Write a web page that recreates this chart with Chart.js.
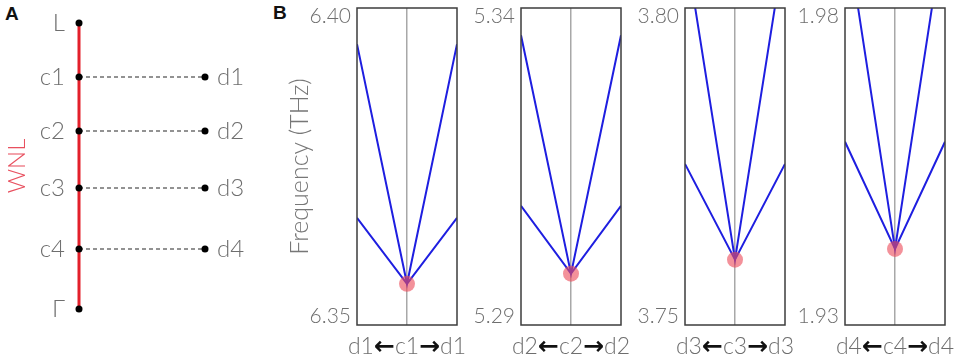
<!DOCTYPE html>
<html><head><meta charset="utf-8">
<script src="https://cdn.jsdelivr.net/npm/chart.js@4.4.1/dist/chart.umd.min.js"></script>
<style>
html,body{margin:0;padding:0;background:#fff;}
#wrap{position:relative;width:962px;height:358px;overflow:hidden;background:#fff;}
canvas{position:absolute;top:0;}
.tag{position:absolute;font:bold 19px "Liberation Sans",Arial,sans-serif;color:#111;line-height:19px;}
</style></head><body>
<div id="wrap">
<div class="tag" style="left:5px;top:4px">A</div>
<div class="tag" style="left:273px;top:3px">B</div>
<canvas id="cA" width="260" height="358" style="left:0px"></canvas>
<canvas id="c0" width="190" height="358" style="left:277px"></canvas>
<canvas id="c1" width="190" height="358" style="left:441px"></canvas>
<canvas id="c2" width="190" height="358" style="left:605px"></canvas>
<canvas id="c3" width="190" height="358" style="left:765px"></canvas>
</div>
<script>
// ---------- DATA ----------
// Panel A: path L -> Gamma with branch points c1..c4 (relative position along path)
const nodeLabels = ['L', 'c1', 'c2', 'c3', 'c4', 'Γ'];
const nodePos    = [0, 0.189, 0.378, 0.577, 0.790, 1];
const branchLabels = ['d1', 'd2', 'd3', 'd4'];
const branchPos    = [0.189, 0.378, 0.577, 0.790];

// Panel B: dispersion around each c point (x: d <- c -> d)
const pointNames  = ['c1', 'c2', 'c3', 'c4'];
const sideNames   = ['d1', 'd2', 'd3', 'd4'];
const xPos        = [-1, 0, 1];
const yMin        = [6.35, 5.29, 3.75, 1.93];
const yMax        = [6.40, 5.34, 3.80, 1.98];
const centerFreq  = [6.3565, 5.2981, 3.7603, 1.9420];   // degenerate point (dot)
const lowerBranch = [6.3669, 5.3088, 3.7754, 1.9589];   // value at d (both sides)
const upperBranch = [6.3943, 5.3357, 3.8102, 1.9935];   // value at d (both sides)

// ---------- STYLE ----------
Chart.defaults.font.family = 'Lato';
Chart.defaults.font.weight = 300;
const GRAY = '#6e6e6e';
const LIGHT = {family: 'Lato', weight: 300};

// ---------- Panel A ----------
new Chart(document.getElementById('cA'), {
  type: 'scatter',
  data: {
    datasets: [
      { // node dots
        data: nodePos.map(p => ({x: 0, y: p})),
        showLine: false, pointRadius: 3.5, pointHoverRadius: 3.5,
        pointBackgroundColor: '#000', pointBorderWidth: 0, clip: false, order: 0
      },
      { // WNL red path
        data: [{x: 0, y: nodePos[0]}, {x: 0, y: nodePos[nodePos.length - 1]}],
        showLine: true, borderColor: '#e3202b', borderWidth: 3, pointRadius: 0, clip: false, order: 2
      },
      ...branchPos.map(p => ({
        data: [{x: 0, y: p}, {x: 1, y: p}],
        showLine: true, borderColor: '#6f6f6f', borderWidth: 1.5, borderDash: [4, 3],
        pointRadius: [0, 3.5], pointBackgroundColor: '#000', pointBorderWidth: 0, clip: false, order: 1
      }))
    ]
  },
  options: {
    responsive: false, animation: false, events: [],
    layout: {padding: {top: 23, bottom: 49, left: 0, right: 0}},
    plugins: {legend: {display: false}, tooltip: {enabled: false}},
    scales: {
      x: {type: 'linear', min: 0, max: 1, display: false},
      y: {
        type: 'linear', position: 'left', reverse: true, min: 0, max: 1,
        afterBuildTicks: s => { s.ticks = nodePos.map(v => ({value: v})); },
        afterFit: s => { s.width = 79; s.paddingTop = 0; s.paddingBottom = 0; },
        ticks: {callback: v => nodeLabels[nodePos.indexOf(v)], color: GRAY,
                font: {...LIGHT, size: 24}, padding: 14, autoSkip: false},
        grid: {display: false, drawTicks: false}, border: {display: false},
        title: {display: true, text: 'WNL', color: '#e8505f', font: {...LIGHT, size: 24},
                padding: {top: 3, bottom: 0}}
      },
      y2: {
        type: 'linear', position: 'right', reverse: true, min: 0, max: 1,
        afterBuildTicks: s => { s.ticks = branchPos.map(v => ({value: v})); },
        afterFit: s => { s.width = 55; s.paddingTop = 0; s.paddingBottom = 0; },
        ticks: {callback: v => branchLabels[branchPos.indexOf(v)], color: GRAY,
                font: {...LIGHT, size: 24}, padding: 12, autoSkip: false},
        grid: {display: false, drawTicks: false}, border: {display: false}
      }
    }
  }
});

// ---------- Panel B ----------
const framePlugin = {
  id: 'frame',
  afterDatasetsDraw(chart) {
    const {ctx, chartArea: a} = chart;
    ctx.save();
    ctx.strokeStyle = '#3c3c3c';
    ctx.lineWidth = 1.5;
    ctx.strokeRect(a.left, a.top, a.right - a.left, a.bottom - a.top);
    ctx.restore();
  }
};
const xLabelPlugin = {
  id: 'xlabel',
  afterDraw(chart, args, opts) {
    const {ctx, chartArea: a} = chart;
    const segs = [
      [opts.side, '300 23px Lato', GRAY],
      ['←', 'bold 25px "DejaVu Sans"', '#111'],
      [opts.mid, '300 23px Lato', GRAY],
      ['→', 'bold 25px "DejaVu Sans"', '#111'],
      [opts.side, '300 23px Lato', GRAY]
    ];
    ctx.save();
    ctx.textBaseline = 'middle';
    ctx.textAlign = 'left';
    let total = 0;
    const widths = segs.map(s => { ctx.font = s[1]; const w = ctx.measureText(s[0]).width; total += w; return w; });
    let x = (a.left + a.right) / 2 - total / 2;
    segs.forEach((s, i) => {
      ctx.font = s[1]; ctx.fillStyle = s[2];
      ctx.fillText(s[0], x, 347);
      x += widths[i];
    });
    ctx.restore();
  }
};

for (let i = 0; i < 4; i++) {
  const lo = yMin[i], hi = yMax[i];
  new Chart(document.getElementById('c' + i), {
    type: 'scatter',
    data: {
      datasets: [
        { // degenerate point
          data: [{x: xPos[1], y: centerFreq[i]}],
          showLine: false, pointRadius: 8, pointHoverRadius: 8,
          pointBackgroundColor: 'rgba(236,78,92,0.62)', pointBorderWidth: 0, clip: false, order: 0
        },
        { // upper branch
          data: [{x: xPos[0], y: upperBranch[i]}, {x: xPos[1], y: centerFreq[i]}, {x: xPos[2], y: upperBranch[i]}],
          showLine: true, borderColor: '#1e1ee0', borderWidth: 2, pointRadius: 0, clip: 0, order: 1
        },
        { // lower branch
          data: [{x: xPos[0], y: lowerBranch[i]}, {x: xPos[1], y: centerFreq[i]}, {x: xPos[2], y: lowerBranch[i]}],
          showLine: true, borderColor: '#1e1ee0', borderWidth: 2, pointRadius: 0, clip: 0, order: 1
        }
      ]
    },
    options: {
      responsive: false, animation: false, events: [],
      layout: {padding: {top: 5, bottom: 33, left: 0, right: 10}},
      plugins: {legend: {display: false}, tooltip: {enabled: false},
                xlabel: {side: sideNames[i], mid: pointNames[i]}},
      scales: {
        x: {
          type: 'linear', min: -1, max: 1,
          afterBuildTicks: s => { s.ticks = [{value: 0}]; },
          afterFit: s => { s.paddingLeft = 0; s.paddingRight = 0; },
          ticks: {display: false},
          grid: {color: '#a8a8a8', lineWidth: 1.5, drawTicks: false},
          border: {display: false}
        },
        y: {
          type: 'linear', position: 'left', min: lo, max: hi,
          afterBuildTicks: s => { s.ticks = [{value: lo}, {value: hi}]; },
          afterFit: s => { s.width = 80; s.paddingTop = 0; s.paddingBottom = 0; },
          ticks: {
            callback: v => (Math.abs(v - hi) < 1e-9 ? ['', hi.toFixed(2)] : [lo.toFixed(2), '']),
            color: GRAY, font: {...LIGHT, size: 21, lineHeight: 0.8}, padding: 6, autoSkip: false
          },
          grid: {display: false, drawTicks: false}, border: {display: false},
          title: {display: i === 0, text: 'Frequency (THz)', color: '#777', font: {...LIGHT, size: 25},
                  padding: {top: 8, bottom: 0}}
        }
      }
    },
    plugins: [framePlugin, xLabelPlugin]
  });
}
</script>
</body></html>
